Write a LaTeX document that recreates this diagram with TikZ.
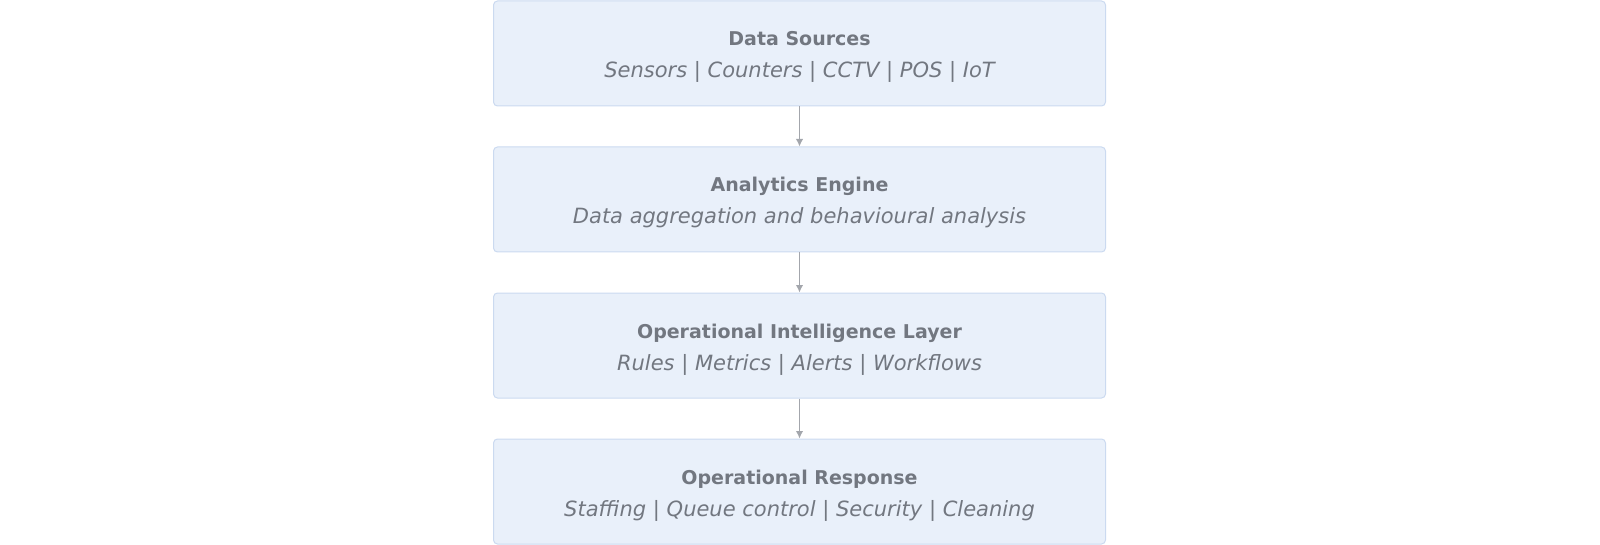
\documentclass[tikz,border=0pt]{standalone}
\usepackage{fontspec}
\setmainfont{DejaVu Sans}
\usetikzlibrary{arrows.meta}
\definecolor{boxfill}{HTML}{E9F0FA}
\definecolor{boxline}{HTML}{CBDAF0}
\definecolor{txt}{HTML}{727780}
\definecolor{arr}{HTML}{A3A6AC}
\tikzset{
  layerbox/.style={draw=boxline, fill=boxfill, line width=1pt, rounded corners=4pt,
    minimum width=612pt, minimum height=105pt, inner sep=0pt},
  ttl/.style={anchor=base, inner sep=0pt, text=txt, font=\fontsize{19}{24}\selectfont\bfseries},
  sub/.style={anchor=base, inner sep=0pt, text=txt, font=\fontsize{21}{26}\selectfont\itshape},
  flow/.style={draw=arr, line width=1.3pt, -{Latex[length=7.5pt,width=7.5pt]}}
}
\begin{document}
\begin{tikzpicture}[x=1pt,y=-1pt]
\useasboundingbox (0,0) rectangle (1600,545);
\node[layerbox] (ds) at (799.5,53.5) {};
\node[layerbox] (ae) at (799.5,199.5) {};
\node[layerbox] (oi) at (799.5,345.5) {};
\node[layerbox] (or) at (799.5,491.5) {};
\node[ttl] (dst) at ([yshift=7.5pt]ds.center) {Data Sources};
\node[sub] (dss) at ([yshift=-24.5pt]ds.center) {Sensors | Counters | CCTV | POS | IoT};
\node[ttl] (aet) at ([yshift=7.5pt]ae.center) {Analytics Engine};
\node[sub] (aes) at ([yshift=-24.5pt]ae.center) {Data aggregation and behavioural analysis};
\node[ttl] (oit) at ([yshift=7.5pt]oi.center) {Operational Intelligence Layer};
\node[sub] (ois) at ([yshift=-24.5pt]oi.center) {Rules | Metrics | Alerts | Workflows};
\node[ttl] (ort) at ([yshift=7.5pt]or.center) {Operational Response};
\node[sub] (ors) at ([yshift=-24.5pt]or.center) {Staffing | Queue control | Security | Cleaning};
\draw[flow] (ds.south) -- (ae.north);
\draw[flow] (ae.south) -- (oi.north);
\draw[flow] (oi.south) -- (or.north);
\end{tikzpicture}
\end{document}
